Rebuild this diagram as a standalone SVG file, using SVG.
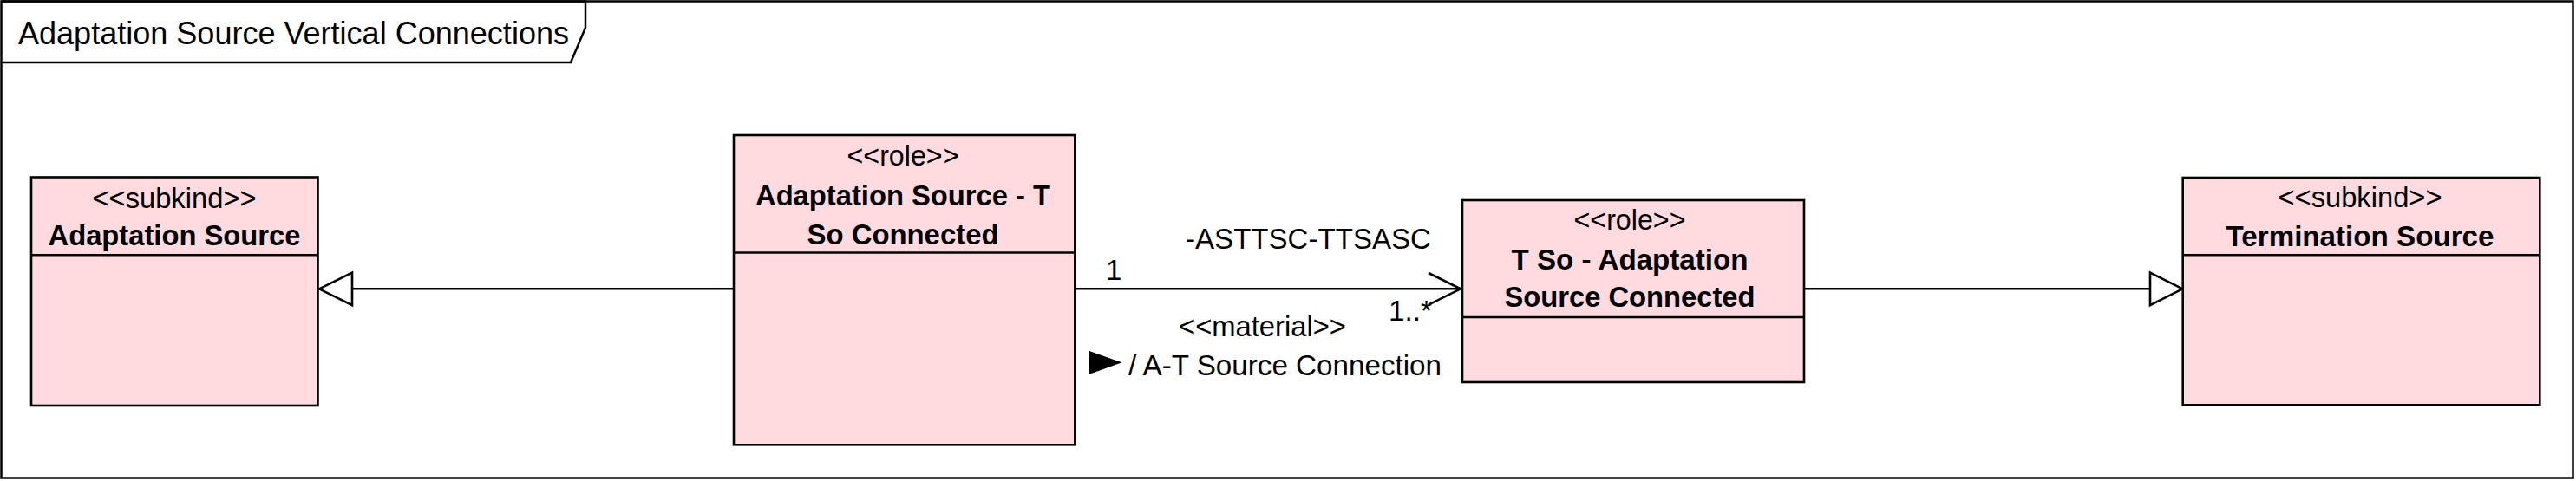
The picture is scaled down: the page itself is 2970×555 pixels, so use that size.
<svg xmlns="http://www.w3.org/2000/svg" width="2970" height="555" viewBox="0 0 2970 555">
  <style>
    .frame { fill: #FFFFFF; stroke: #000000; stroke-width: 2.5; }
    .tab { fill: none; stroke: #000000; stroke-width: 2.5; }
    .box { fill: #FFDADF; stroke: #000000; stroke-width: 2.6; }
    .div { stroke: #000000; stroke-width: 2.6; }
    .edge { fill: none; stroke: #000000; stroke-width: 2.6; }
    .gen { fill: #FFFFFF; stroke: #000000; stroke-width: 2.6; stroke-linejoin: miter; }
    .txt { font-family: "Liberation Sans", Arial, sans-serif; font-size: 33px; fill: #000000; }
    .st { text-anchor: middle; }
    .nm { text-anchor: middle; font-weight: bold; }
    .title { font-family: "Liberation Sans", Arial, sans-serif; font-size: 36px; fill: #000000; }
  </style>

  <rect class="frame" x="1.5" y="1.5" width="2965" height="550"/>
  <g id="frame-title">
    <path class="tab" d="M1.5,1.5 H675 V32 L658,72 H1.5"/>
    <text class="title" x="21" y="51" textLength="635" lengthAdjust="spacingAndGlyphs">Adaptation Source Vertical Connections</text>
  </g>

  <g id="connectors">
    <!-- generalization: Adaptation Source - T So Connected -> Adaptation Source -->
    <line class="edge" x1="846" y1="333.3" x2="406" y2="333.3"/>
    <polygon class="gen" points="368,333.3 406,314.5 406,352.1"/>
    <!-- association ASTTSC-TTSASC -->
    <line class="edge" x1="1239" y1="333.3" x2="1684" y2="333.3"/>
    <polyline class="edge" points="1647,315 1684,333.3 1647,351.6"/>
    <text class="txt" x="1367" y="287" textLength="283" lengthAdjust="spacingAndGlyphs">-ASTTSC-TTSASC</text>
    <text class="txt" x="1275" y="323">1</text>
    <text class="txt" x="1601" y="370" textLength="50" lengthAdjust="spacingAndGlyphs">1..*</text>
    <text class="txt" x="1359" y="388" textLength="193" lengthAdjust="spacingAndGlyphs">&lt;&lt;material&gt;&gt;</text>
    <polygon points="1256,405 1293.5,418.3 1256,431.7" fill="#000000"/>
    <text class="txt" x="1301" y="433" textLength="361" lengthAdjust="spacingAndGlyphs">/ A-T Source Connection</text>
    <!-- generalization: T So - Adaptation Source Connected -> Termination Source -->
    <line class="edge" x1="2080" y1="333.3" x2="2479" y2="333.3"/>
    <polygon class="gen" points="2516.5,333.3 2479,314.5 2479,352.1"/>
  </g>

  <g id="adaptation-source">
    <rect class="box" x="36" y="204.5" width="330.5" height="263.5"/>
    <line class="div" x1="36" y1="294.3" x2="366.5" y2="294.3"/>
    <text class="txt st" x="201" y="240" textLength="189" lengthAdjust="spacingAndGlyphs">&lt;&lt;subkind&gt;&gt;</text>
    <text class="txt nm" x="201" y="283" textLength="291" lengthAdjust="spacingAndGlyphs">Adaptation Source</text>
  </g>

  <g id="adaptation-source-t-so-connected">
    <rect class="box" x="846" y="156" width="393.3" height="357.3"/>
    <line class="div" x1="846" y1="291.5" x2="1239.3" y2="291.5"/>
    <text class="txt st" x="1041" y="190.7" textLength="129" lengthAdjust="spacingAndGlyphs">&lt;&lt;role&gt;&gt;</text>
    <text class="txt nm" x="1041" y="237.3" textLength="340" lengthAdjust="spacingAndGlyphs">Adaptation Source - T</text>
    <text class="txt nm" x="1041" y="281.7" textLength="221" lengthAdjust="spacingAndGlyphs">So Connected</text>
  </g>

  <g id="t-so-adaptation-source-connected">
    <rect class="box" x="1686" y="231" width="394" height="210"/>
    <line class="div" x1="1686" y1="366" x2="2080" y2="366"/>
    <text class="txt st" x="1879" y="265" textLength="129" lengthAdjust="spacingAndGlyphs">&lt;&lt;role&gt;&gt;</text>
    <text class="txt nm" x="1879" y="310.7" textLength="273" lengthAdjust="spacingAndGlyphs">T So - Adaptation</text>
    <text class="txt nm" x="1879" y="354.3" textLength="289" lengthAdjust="spacingAndGlyphs">Source Connected</text>
  </g>

  <g id="termination-source">
    <rect class="box" x="2516.7" y="205" width="411.6" height="262.3"/>
    <line class="div" x1="2516.7" y1="294.3" x2="2928.3" y2="294.3"/>
    <text class="txt st" x="2721" y="239.3" textLength="189" lengthAdjust="spacingAndGlyphs">&lt;&lt;subkind&gt;&gt;</text>
    <text class="txt nm" x="2721" y="284" textLength="309" lengthAdjust="spacingAndGlyphs">Termination Source</text>
  </g>
</svg>
